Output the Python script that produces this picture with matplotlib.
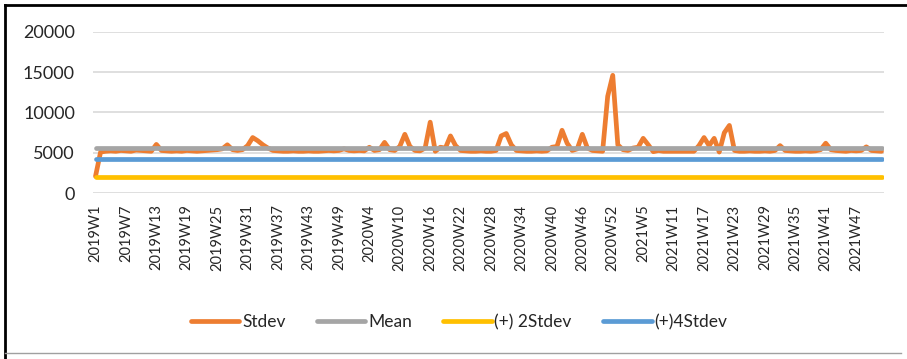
import matplotlib
matplotlib.use("Agg")
import matplotlib.pyplot as plt
from matplotlib.lines import Line2D
import numpy as np

# weekly categories: 2019 has 51 weeks in the data, 2020 has 53, 2021 has 52
weeks = ([f"2019W{w}" for w in range(1, 52)] +
         [f"2020W{w}" for w in range(1, 54)] +
         [f"2021W{w}" for w in range(1, 53)])

stdev = [
    2100, 5100, 5200, 5250, 5200, 5300, 5250, 5200, 5350, 5300,
    5250, 5200, 6050, 5300, 5250, 5200, 5250, 5200, 5300, 5250,
    5200, 5250, 5300, 5350, 5400, 5500, 6000, 5400, 5300, 5400,
    5900, 6900, 6500, 6000, 5600, 5300, 5250, 5200, 5200, 5250,
    5200, 5200, 5250, 5200, 5200, 5250, 5300, 5250, 5300, 5500,
    5300, 5250, 5300, 5250, 5700, 5300, 5400, 6300, 5400, 5300,
    5800, 7300, 5800, 5300, 5250, 5600, 8800, 5200, 5700, 5600,
    7100, 5900, 5300, 5250, 5200, 5200, 5250, 5200, 5200, 5300,
    7100, 7400, 6000, 5300, 5250, 5200, 5200, 5250, 5200, 5250,
    5700, 5800, 7800, 6200, 5300, 5500, 7300, 5600, 5300, 5250,
    5200, 12000, 14600, 6000, 5400, 5300, 5600, 5700, 6800, 6000,
    5150, 5300, 5200, 5200, 5200, 5200, 5200, 5200, 5200, 5900,
    6900, 5900, 6800, 5100, 7500, 8400, 5300, 5200, 5200, 5250,
    5200, 5200, 5250, 5200, 5300, 5900, 5300, 5250, 5200, 5200,
    5250, 5200, 5250, 5400, 6200, 5400, 5300, 5250, 5200, 5300,
    5250, 5300, 5750, 5300, 5250, 5200,
]
mean_val = 5600
plus2_val = 2060
plus4_val = 4280

plt.rcParams["font.family"] = ["Lato", "DejaVu Sans"]

n = len(weeks)
x = np.arange(n)
fig = plt.figure(figsize=(9.07, 3.59), dpi=100)
ax = fig.add_axes([0.1025, 0.4616, 0.8722, 0.4501])

kw = dict(lw=3.4, solid_capstyle="round", solid_joinstyle="round")
ax.plot(x, stdev, color="#ED7D31", label="Stdev", **kw)
ax.plot(x, np.full(n, mean_val), color="#A5A5A5", label="Mean", **kw)
ax.plot(x, np.full(n, plus2_val), color="#FFC000", label="(+) 2Stdev", **kw)
ax.plot(x, np.full(n, plus4_val), color="#5B9BD5", label="(+)4Stdev", **kw)

ax.set_xlim(-0.5, n - 0.5)
ax.set_ylim(0, 20000)
ax.set_yticks(range(0, 20001, 5000))
ax.set_xticks(x[::6])
ax.set_xticklabels(weeks[::6], rotation=90, fontsize=10.5, color="#262626")
ax.tick_params(axis="x", length=0, pad=8)
ax.tick_params(axis="y", length=0, pad=13, labelsize=13, labelcolor="#262626")
ax.grid(axis="y", color="#D9D9D9", lw=1.2)
ax.set_axisbelow(True)
for s in ax.spines.values():
    s.set_visible(False)

fig.legend(loc="center", bbox_to_anchor=(0.506, 0.103), ncol=4, frameon=False,
           fontsize=12.5, handlelength=2.8, handletextpad=0.15, columnspacing=1.8,
           labelcolor="#262626")

# chart frame (screenshot border)
fig.add_artist(Line2D([0.005, 1.0], [0.985, 0.985], color="black", lw=2))
fig.add_artist(Line2D([0.005, 0.005], [0.0, 0.985], color="black", lw=2))
fig.add_artist(Line2D([0.005, 0.993], [0.017, 0.017], color="#A0A0A0", lw=1))

fig.savefig("out.png", dpi=100)
